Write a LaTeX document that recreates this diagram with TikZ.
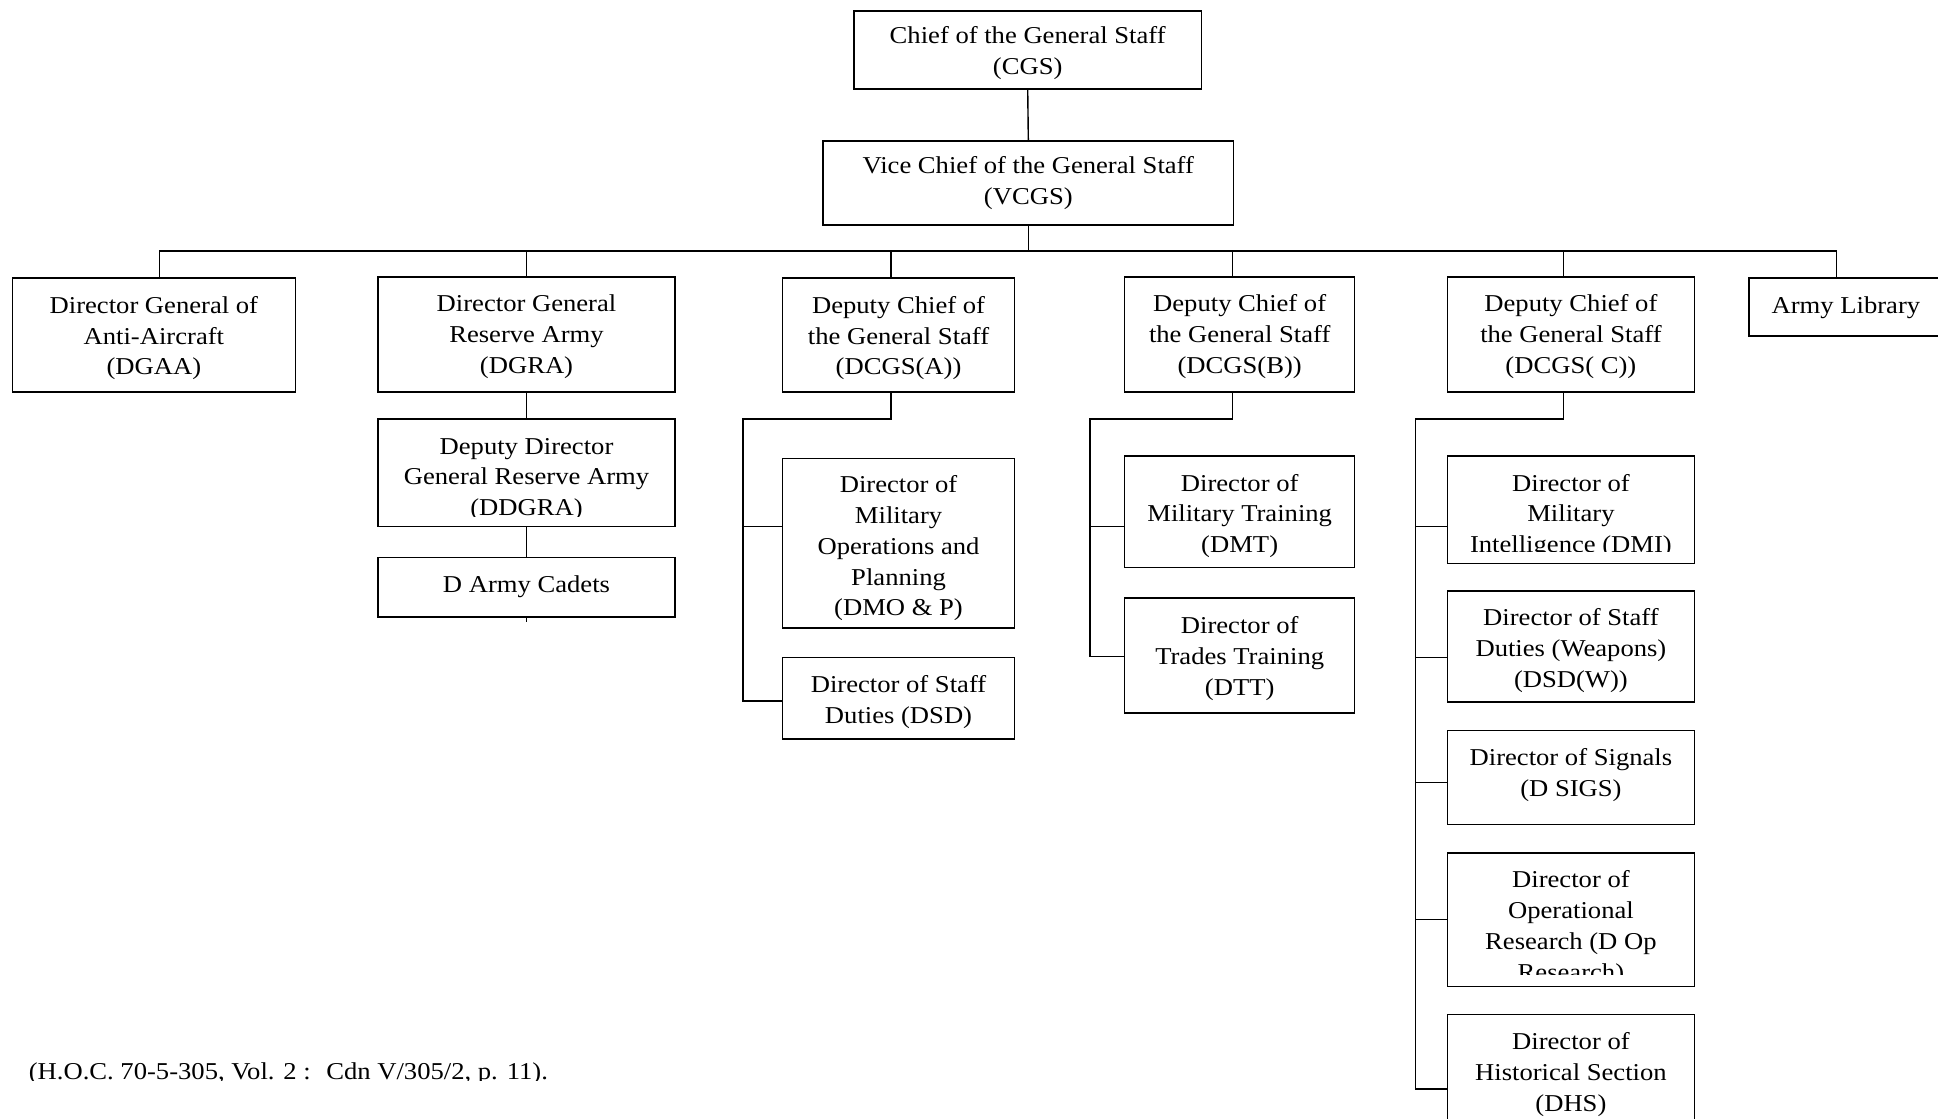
\documentclass[tikz,border=0pt]{standalone}
\usepackage{fontspec}
\setmainfont{Liberation Serif}[FakeStretch=1.1]
\newcommand{\orgfont}{\fontsize{12.1pt}{15.45pt}\selectfont}
\newcommand{\orgclip}{4pt}
\tikzset{
  boxline/.style={draw, line width=0.75pt},
  orgbox/.style={boxline, inner sep=0pt, outer sep=0pt},
  orgtext/.style={anchor=north, align=center, inner sep=0pt, font=\orgfont},
  link/.style={line width=0.7pt},
}
% [baseline offset]{name}{x1}{y1}{x2}{y2}{text}
\newcommand{\orgnode}[7][28]{%
  \node[orgbox, minimum width={(#5-#3)*0.618pt}, minimum height={(#6-#4)*0.618pt}] (#2) at ({(#3+#5)/2},{(#4+#6)/2}) {};
  \begin{scope}
    \clip ([yshift=\orgclip]#2.south west) rectangle (#2.north east);
    \node[orgtext] (#2-t) at ([yshift={-(#1*0.618-10.815)*1pt}]#2.north) {\strut #7};
  \end{scope}
}
\begin{document}
\begin{tikzpicture}[x=0.618pt, y=-0.618pt]
\useasboundingbox (0,0) rectangle (1568,905);

% top
\orgnode[26]{cgs}{691}{9}{972}{72}{Chief of the General Staff\\(CGS)}
\orgnode[26]{vcgs}{666}{114}{998}{182}{Vice Chief of the General Staff\\(VCGS)}

% second row
\orgnode{dgaa}{10}{225}{239}{317}{Director General of\\Anti-Aircraft\\(DGAA)}
\orgnode{dgra}{306}{224}{546}{317}{Director General\\Reserve Army\\(DGRA)}
\orgnode{dcgsa}{633}{225}{821}{317}{Deputy Chief of\\the General Staff\\(DCGS(A))}
\orgnode{dcgsb}{910}{224}{1096}{317}{Deputy Chief of\\the General Staff\\(DCGS(B))}
\orgnode{dcgsc}{1171}{224}{1371}{317}{Deputy Chief of\\the General Staff\\(DCGS( C))}
\orgnode{lib}{1415}{225}{1572}{272}{Army Library}

% DGRA branch
\renewcommand{\orgclip}{5pt}
\orgnode{ddgra}{306}{339}{546}{426}{Deputy Director\\General Reserve Army\\(DDGRA)}
\renewcommand{\orgclip}{4pt}
\orgnode{cadets}{306}{451}{546}{499}{D Army Cadets}

% DCGS(A) branch
\orgnode[27]{dmo}{633}{371}{821}{508}{Director of\\Military\\Operations and\\Planning\\(DMO \& P)}
\orgnode{dsd}{633}{532}{821}{598}{Director of Staff\\Duties (DSD)}

% DCGS(B) branch
\orgnode{dmt}{910}{369}{1096}{459}{Director of\\Military Training\\(DMT)}
\orgnode{dtt}{910}{484}{1096}{577}{Director of\\Trades Training\\(DTT)}

% DCGS(C) branch
\renewcommand{\orgclip}{6.2pt}
\orgnode{dmi}{1171}{369}{1371}{456}{Director of\\Military\\Intelligence (DMI)}
\renewcommand{\orgclip}{4pt}
\orgnode{dsdw}{1171}{478}{1371}{568}{Director of Staff\\Duties (Weapons)\\(DSD(W))}
\orgnode{sigs}{1171}{591}{1371}{667}{Director of Signals\\(D SIGS)}
\renewcommand{\orgclip}{5.7pt}
\orgnode{dor}{1171}{690}{1371}{798}{Director of\\Operational\\Research (D Op\\Research)}
\renewcommand{\orgclip}{4pt}
\orgnode{dhs}{1171}{821}{1371}{918}{Director of\\Historical Section\\(DHS)}

% source line
\begin{scope}
  \clip (0,800) rectangle (800,874.3);
  \node[anchor=base west, inner sep=0pt, font=\orgfont] (src) at (23,873.5) {(H.O.C. 70-5-305, Vol. 2 :~ Cdn V/305/2, p. 11).};
\end{scope}

% connectors: top
\draw[link] (cgs.south) -- (vcgs.north);
\coordinate (bus) at (832,203);
\coordinate (busL) at (129,203);
\coordinate (busR) at (1486,203);
\coordinate (jA) at (721,203);
\coordinate (jB) at (997,203);
\coordinate (jC) at (1265,203);
\draw[link] (vcgs.south) -- (bus);
\draw[link] (busL) -- (busR);
\draw[link] (busL) -- (busL |- dgaa.north);
\draw[link] (dgra.north |- busL) -- (dgra.north);
\draw[link] (jA) -- (jA |- dcgsa.north);
\draw[link] (jB) -- (jB |- dcgsb.north);
\draw[link] (jC) -- (jC |- dcgsc.north);
\draw[link] (busR) -- (busR |- lib.north);

% DGRA chain
\coordinate (cadetstub) at (426,503);
\draw[link] (dgra.south) -- (ddgra.north);
\draw[link] (ddgra.south) -- (cadets.north);
\draw[link] (cadets.south) -- (cadetstub);

% DCGS(A) tree
\coordinate (aElbow) at (721,339);
\coordinate (aSp) at (601,339);
\coordinate (aB1) at (601,426);
\coordinate (aEnd) at (601,567);
\draw[link] (aElbow |- dcgsa.south) -- (aElbow) -- (aSp) -- (aEnd) -- (aEnd -| dsd.west);
\draw[link] (aB1) -- (aB1 -| dmo.west);

% DCGS(B) tree
\coordinate (bElbow) at (997,339);
\coordinate (bSp) at (882,339);
\coordinate (bB1) at (882,426);
\coordinate (bEnd) at (882,531);
\draw[link] (bElbow |- dcgsb.south) -- (bElbow) -- (bSp) -- (bEnd) -- (bEnd -| dtt.west);
\draw[link] (bB1) -- (bB1 -| dmt.west);

% DCGS(C) tree
\coordinate (cElbow) at (1265,339);
\coordinate (cSp) at (1145,339);
\coordinate (cB1) at (1145,426);
\coordinate (cB2) at (1145,532);
\coordinate (cB3) at (1145,633);
\coordinate (cB4) at (1145,744);
\coordinate (cEnd) at (1145,881);
\draw[link] (cElbow |- dcgsc.south) -- (cElbow) -- (cSp) -- (cEnd) -- (cEnd -| dhs.west);
\draw[link] (cB1) -- (cB1 -| dmi.west);
\draw[link] (cB2) -- (cB2 -| dsdw.west);
\draw[link] (cB3) -- (cB3 -| sigs.west);
\draw[link] (cB4) -- (cB4 -| dor.west);
\end{tikzpicture}
\end{document}
